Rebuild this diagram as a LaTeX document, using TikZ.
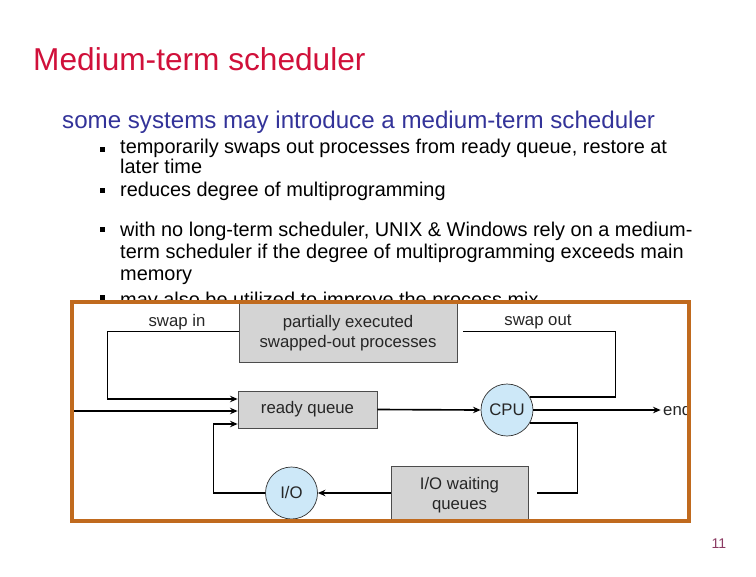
\documentclass[tikz,border=0pt]{standalone}
\usepackage{fontspec}
\setmainfont{Liberation Sans}
\usetikzlibrary{arrows.meta, positioning}
\definecolor{titlered}{HTML}{D0103A}
\definecolor{subblue}{HTML}{333399}
\definecolor{frameorange}{HTML}{C06A1E}
\definecolor{boxgray}{HTML}{D4D4D4}
\definecolor{cpublue}{HTML}{CDE8F8}
\definecolor{pagenum}{HTML}{8B3A62}

\begin{document}
\begin{tikzpicture}[
    x=0.03cm, y=-0.03cm,
    queuebox/.style={rectangle, draw=black!70, line width=0.6pt, fill=boxgray, align=center, inner sep=0pt, font=\fontsize{14.3}{16.5}\selectfont, text=black!85},
    devcircle/.style={circle, draw=black!80, line width=0.6pt, fill=cpublue, minimum size=1.56cm, inner sep=0pt, font=\fontsize{14.3}{16}\selectfont, text=black!85},
    tag/.style={inner sep=0pt, font=\fontsize{14.3}{16}\selectfont, text=black!85},
    bullettext/.style={anchor=base west, inner sep=0pt, align=left},
    bulletsq/.style={rectangle, fill=black, minimum size=0.15cm, inner sep=0pt},
    arrow/.style={-{Stealth[length=6.5pt,width=5.5pt]}, line width=1.4pt},
    link/.style={line width=1.4pt}
  ]
  \useasboundingbox (0,0) rectangle (756,576);

  \node[anchor=base west, inner sep=0pt, text=titlered, font=\fontsize{27}{30}\selectfont] (title) at (33,70) {Medium-term scheduler};
  \node[anchor=base west, inner sep=0pt, text=subblue, font=\fontsize{20.6}{24}\selectfont] (intro) at (62,128.5) {some systems may introduce a medium-term scheduler};

  % bullets (base = last line)
  \node[bulletsq] (sq1) at (102,149) {};
  \node[bullettext, font=\fontsize{17}{14.1}\selectfont] (swapsout) at (120,173.3) {temporarily swaps out processes from ready queue, restore at\\later time};
  \node[bulletsq] (sq2) at (102,190) {};
  \node[bullettext, font=\fontsize{17}{14.1}\selectfont] (reduces) at (120,196.7) {reduces degree of multiprogramming};
  \node[bulletsq] (sq3) at (102,229) {};
  \node[bullettext, font=\fontsize{17}{18.4}\selectfont] (unix) at (120,280) {with no long-term scheduler, UNIX \& Windows rely on a medium-\\term scheduler if the degree of multiprogramming exceeds main\\memory};
  \node[bulletsq] (sq4) at (102,297) {};
  \node[bullettext, font=\fontsize{17}{18.4}\selectfont] (mix) at (120,306) {may also be utilized to improve the process mix};

  % picture frame
  \fill[white] (72,302) rectangle (689,521);
  \begin{scope}
    \clip (72,302) rectangle (689,521);
    \node[queuebox, minimum width=6.54cm, minimum height=1.77cm] (partial) at (348,333) {partially executed\\swapped-out processes};
    \node[queuebox, minimum width=4.17cm, minimum height=1.11cm] (ready) at (307.5,409.5) {\raisebox{-1pt}{ready queue}};
    \node[devcircle] (cpu) at (507,410) {CPU};
    \node[devcircle] (io) at (291.5,493) {I/O};
    \node[queuebox, minimum width=4.11cm, minimum height=1.74cm] (waiting) at (459.5,495) {I/O waiting\\queues};
    \node[tag] (swapin) at (177,322) {swap in};
    \node[tag] (swapout) at (538,322) {swap out};
    \node[tag, anchor=west] (done) at (663,410) {end};
    \coordinate (entry) at (72,411);

    \draw[arrow] (entry) -- (ready.west |- entry);
    \draw[arrow] ([yshift=0.05cm]partial.west) -| ([xshift=-3.9cm,yshift=0.315cm]ready.west) -- ([yshift=0.315cm]ready.west);
    \draw[link] (cpu.30) -| ([xshift=4.74cm,yshift=0.05cm]partial.east) -- ([xshift=0.18cm,yshift=0.05cm]partial.east);
    \draw[arrow] (ready.east) -- (cpu.west);
    \draw[arrow, shorten >=2pt] (cpu.east) -- (done.west);
    \draw[link] (cpu.-30) -| ([xshift=1.47cm]waiting.east |- io) -- ([xshift=0.25cm]waiting.east |- io);
    \draw[arrow] (waiting.west |- io) -- (io.east);
    \draw[arrow] (io.west) -| ([xshift=-0.72cm,yshift=-0.435cm]ready.west) -- ([yshift=-0.435cm]ready.west);
  \end{scope}
  \draw[frameorange, line width=3.4pt] (72,302) rectangle (689,521);

  \node[inner sep=0pt, text=pagenum, font=\fontsize{12}{14}\selectfont] (pageno) at (719,544) {11};
\end{tikzpicture}
\end{document}
